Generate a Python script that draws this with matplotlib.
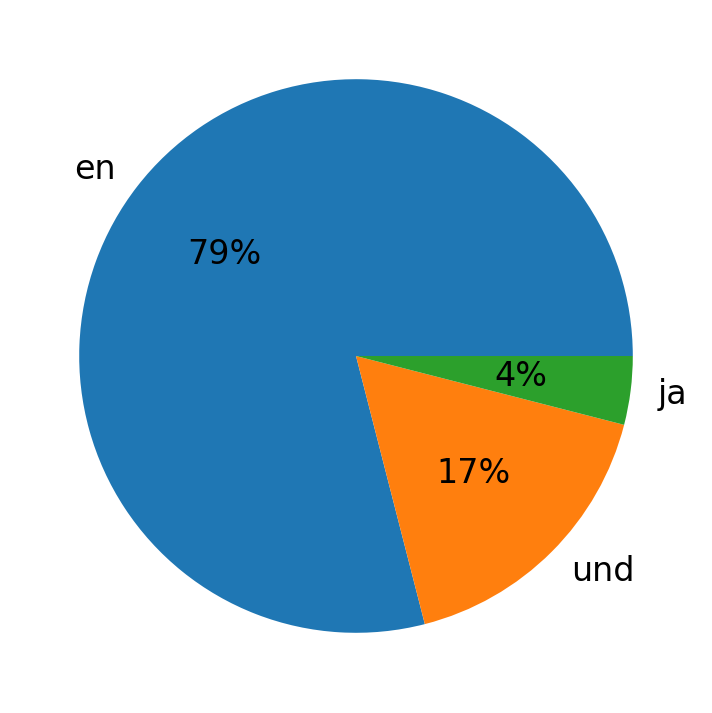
import matplotlib
matplotlib.use("Agg")
import matplotlib.pyplot as plt

labels = ["en", "und", "ja"]
values = [79, 17, 4]

fig = plt.figure(figsize=(7.12, 7.13), dpi=100)
ax = fig.add_axes([10/712, 11/713, 692/712, 692/713])
ax.pie(values, labels=labels, autopct="%1.0f%%", textprops={"fontsize": 24})
ax.set_xlim(-1.25, 1.25)
ax.set_ylim(-1.25, 1.25)
fig.savefig("out.png")
